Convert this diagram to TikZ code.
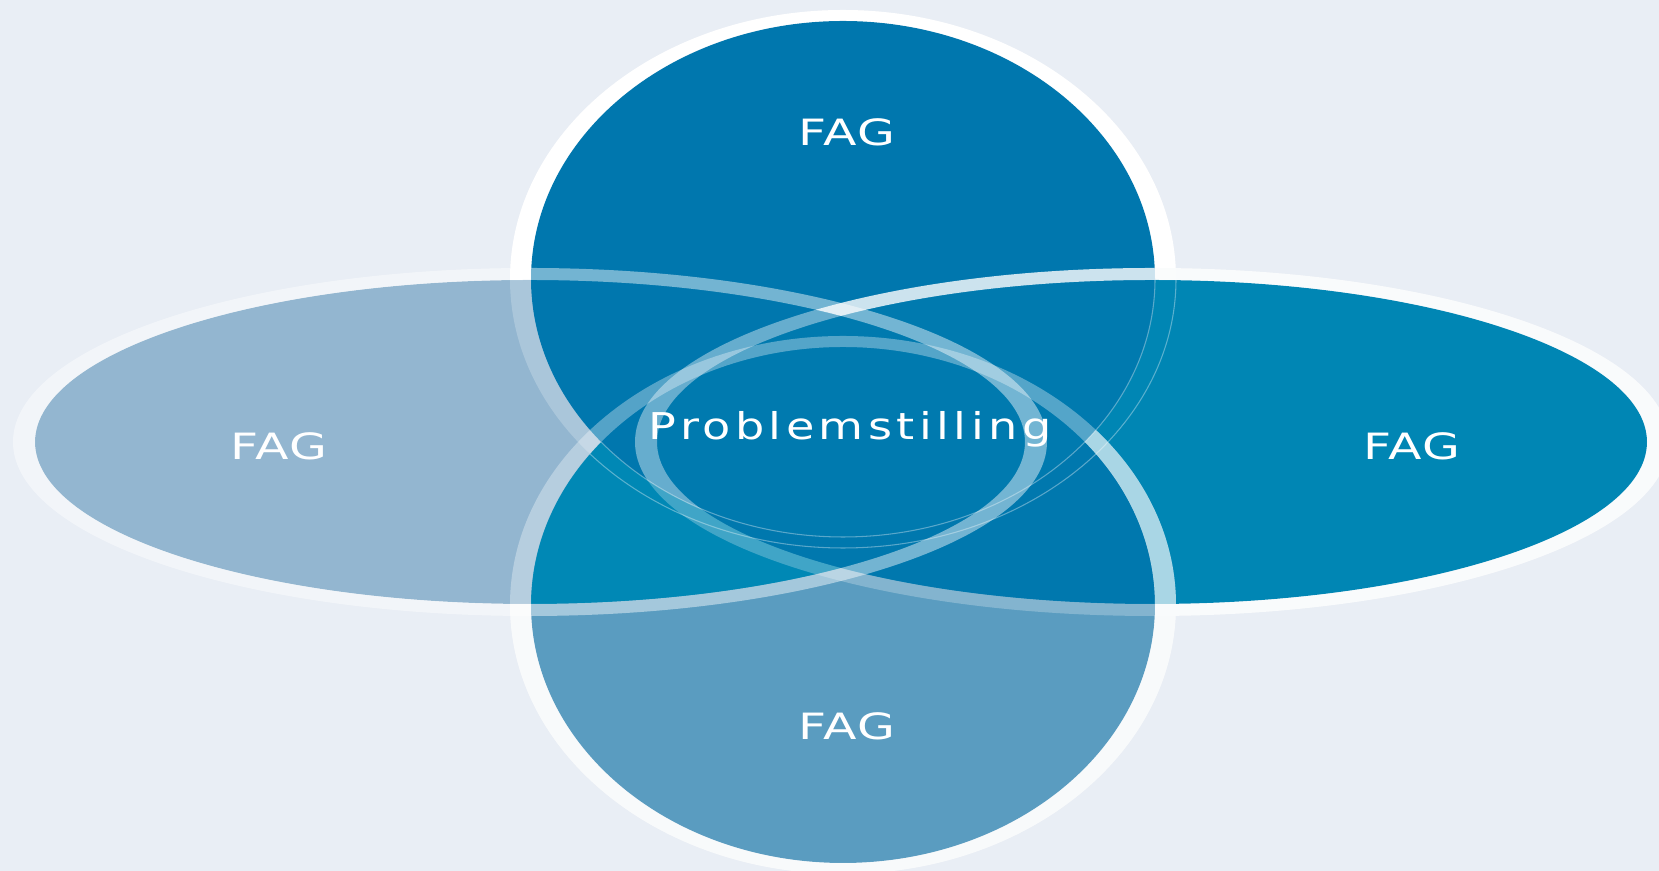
\documentclass[tikz,border=0pt]{standalone}
\usepackage{fontspec}
\setmainfont{DejaVu Sans}
\newfontfamily\labfont[FakeStretch=1.35,LetterSpace=3]{DejaVu Sans}
\newfontfamily\probfont[FakeStretch=1.25,LetterSpace=12]{DejaVu Sans}
\definecolor{bgc}{HTML}{E9EEF5}
\definecolor{Lc}{HTML}{93B6D0}
\definecolor{Rc}{HTML}{0086B4}
\definecolor{Tc}{HTML}{0077AE}
\definecolor{Bc}{HTML}{5A9CC0}
\definecolor{LBc}{HTML}{0088B5}
\definecolor{RBc}{HTML}{0078AE}
\definecolor{RTc}{HTML}{007AAF}
\definecolor{Rring}{HTML}{F8FAFC}
\definecolor{Bring}{HTML}{F6F8FA}
\newcommand{\pTO}{(843,279) ellipse [x radius=333, y radius=269]}
\newcommand{\pTI}{(843,279) ellipse [x radius=312, y radius=258]}
\newcommand{\pBO}{(843,605) ellipse [x radius=333, y radius=269]}
\newcommand{\pBI}{(843,605) ellipse [x radius=312, y radius=258]}
\newcommand{\pLO}{(530,442) ellipse [x radius=517, y radius=174]}
\newcommand{\pLI}{(530,442) ellipse [x radius=495, y radius=162]}
\newcommand{\pRO}{(1152,442) ellipse [x radius=517, y radius=174]}
\newcommand{\pRI}{(1152,442) ellipse [x radius=495, y radius=162]}
\newcommand{\pALL}{(0,0) rectangle (1659,871)}
\tikzset{
  lab/.style={text=white, font=\labfont\fontsize{10.3}{12}\selectfont, anchor=base, inner sep=0pt},
  prob/.style={text=white, font=\probfont\fontsize{10.5}{12}\selectfont, anchor=base, inner sep=0pt},
  ringov/.style={fill=white, opacity=#1},
  hidden/.style={draw=white, opacity=0.35, line width=0.3pt},
}
\begin{document}
\begin{tikzpicture}[x=0.01cm,y=-0.01cm,even odd rule]
\useasboundingbox \pALL;
\fill[bgc] \pALL;
% base rings
\fill[white] \pTO \pTI;
\fill[Rring] \pRO \pRI;
\fill[Bring] \pBO \pBI;
% fills
\fill[Lc] \pLI;
\fill[Rc] \pRI;
\fill[Bc] \pBI;
\begin{scope}
  \clip \pBI;
  \fill[LBc] \pLI;
  \fill[RBc] \pRI;
\end{scope}
\fill[Tc] \pTI;
\begin{scope}
  \clip \pTI;
  \fill[RTc] \pRI;
\end{scope}
% hidden edges of the top ring
\begin{scope}
  \clip \pBI;
  \path[hidden] \pTO \pTI;
\end{scope}
\begin{scope}
  \clip \pRI;
  \begin{scope}
    \clip \pALL \pBI;
    \path[hidden] \pTO \pTI;
  \end{scope}
\end{scope}
% top ring over the left shape
\begin{scope}
  \clip \pALL \pBI;
  \begin{scope}
    \clip \pALL \pRI;
    \fill[ringov=0.22] \pTO \pTI;
  \end{scope}
\end{scope}
% bottom ring
\fill[ringov=0.33] \pBO \pBI;
\begin{scope}
  \clip \pRI;
  \begin{scope}
    \clip \pALL \pTI;
    \fill[ringov=0.5] \pBO \pBI;
  \end{scope}
\end{scope}
% right ring
\begin{scope}
  \clip \pTI;
  \begin{scope}
    \clip \pALL \pLI;
    \fill[ringov=0.8] \pRO \pRI;
  \end{scope}
\end{scope}
\begin{scope}
  \clip \pTI;
  \begin{scope}
    \clip \pLI;
    \fill[ringov=0.4] \pRO \pRI;
  \end{scope}
\end{scope}
\begin{scope}
  \clip \pALL \pTI;
  \fill[ringov=0.25] \pRO \pRI;
\end{scope}
% left ring
\fill[ringov=0.45] \pLO \pLI;
% labels
\node[lab] (ftop) at (847,146) {FAG};
\node[lab] (fleft) at (279,460) {FAG};
\node[lab] (fright) at (1412,460) {FAG};
\node[lab] (fbot) at (847,740) {FAG};
\node[prob] (prob) at (850,440) {Problemstilling};
\end{tikzpicture}
\end{document}
